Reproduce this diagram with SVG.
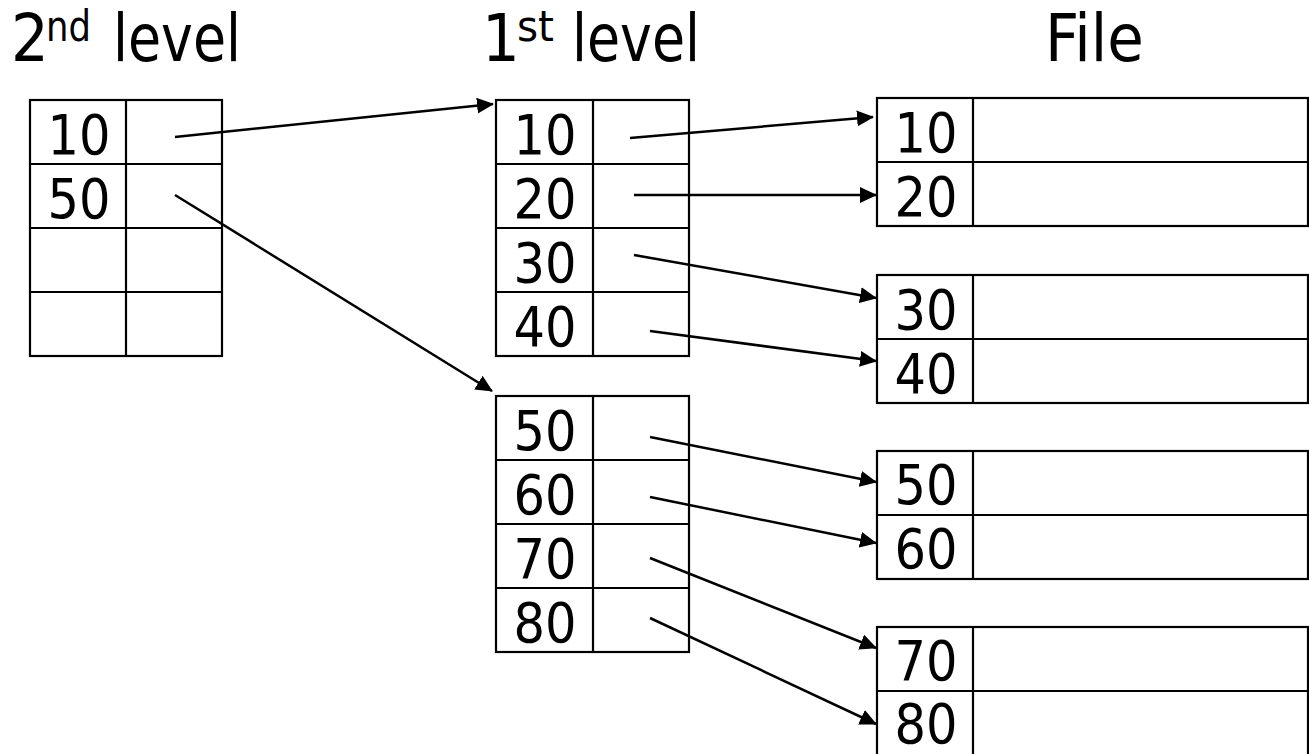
<svg xmlns="http://www.w3.org/2000/svg" width="1309" height="754" viewBox="0 0 1309 754">
<style>
.cell{fill:#fff;stroke:#000;stroke-width:2.2}
.ln{stroke:#000;stroke-width:2.2;fill:none}
.num{font-family:"DejaVu Sans Condensed","DejaVu Sans",sans-serif;font-stretch:condensed;font-size:55px;text-anchor:middle;fill:#000}
.title{font-family:"DejaVu Sans Condensed","DejaVu Sans",sans-serif;font-stretch:condensed;font-size:66px;fill:#000}
.sup{font-family:"DejaVu Sans Condensed","DejaVu Sans",sans-serif;font-stretch:condensed;font-size:42px;fill:#000}
.conn{stroke:#000;stroke-width:2.5;fill:none;marker-end:url(#ah)}
</style>
<defs>
<marker id="ah" viewBox="0 0 17 16" refX="16" refY="8" markerWidth="17" markerHeight="16" markerUnits="userSpaceOnUse" orient="auto">
<path d="M0,0 L17,8 L0,16 Z" fill="#000"/>
</marker>
</defs>
<rect width="1309" height="754" fill="#fff"/>

<g id="titles">
<text class="title" x="11" y="61">2</text>
<text class="sup" x="46" y="41" textLength="45" lengthAdjust="spacingAndGlyphs">nd</text>
<text class="title" x="113" y="61" textLength="128" lengthAdjust="spacingAndGlyphs">level</text>
<text class="title" x="482" y="61">1</text>
<text class="sup" x="517" y="41" textLength="37" lengthAdjust="spacingAndGlyphs">st</text>
<text class="title" x="572" y="61" textLength="128" lengthAdjust="spacingAndGlyphs">level</text>
<text class="title" x="1045" y="61">File</text>
</g>

<g id="second-level">
<rect class="cell" x="30" y="100" width="192" height="256"/>
<line class="ln" x1="126" y1="100" x2="126" y2="356"/>
<line class="ln" x1="30" y1="164" x2="222" y2="164"/>
<line class="ln" x1="30" y1="228" x2="222" y2="228"/>
<line class="ln" x1="30" y1="292" x2="222" y2="292"/>
<text class="num" x="79" y="154">10</text>
<text class="num" x="79" y="218">50</text>
</g>

<g id="first-level-a">
<rect class="cell" x="496" y="100" width="193" height="256"/>
<line class="ln" x1="593" y1="100" x2="593" y2="356"/>
<line class="ln" x1="496" y1="164" x2="689" y2="164"/>
<line class="ln" x1="496" y1="228" x2="689" y2="228"/>
<line class="ln" x1="496" y1="292" x2="689" y2="292"/>
<text class="num" x="545" y="154">10</text>
<text class="num" x="545" y="218">20</text>
<text class="num" x="545" y="282">30</text>
<text class="num" x="545" y="346">40</text>
</g>

<g id="first-level-b">
<rect class="cell" x="496" y="396" width="193" height="256"/>
<line class="ln" x1="593" y1="396" x2="593" y2="652"/>
<line class="ln" x1="496" y1="460" x2="689" y2="460"/>
<line class="ln" x1="496" y1="524" x2="689" y2="524"/>
<line class="ln" x1="496" y1="588" x2="689" y2="588"/>
<text class="num" x="545" y="450">50</text>
<text class="num" x="545" y="514">60</text>
<text class="num" x="545" y="578">70</text>
<text class="num" x="545" y="642">80</text>
</g>

<g id="file-block-1">
<rect class="cell" x="877" y="98" width="431" height="128"/>
<line class="ln" x1="973" y1="98" x2="973" y2="226"/>
<line class="ln" x1="877" y1="162" x2="1308" y2="162"/>
<text class="num" x="926" y="152">10</text>
<text class="num" x="926" y="216">20</text>
</g>

<g id="file-block-2">
<rect class="cell" x="877" y="275" width="431" height="128"/>
<line class="ln" x1="973" y1="275" x2="973" y2="403"/>
<line class="ln" x1="877" y1="339" x2="1308" y2="339"/>
<text class="num" x="926" y="329">30</text>
<text class="num" x="926" y="393">40</text>
</g>

<g id="file-block-3">
<rect class="cell" x="877" y="451" width="431" height="128"/>
<line class="ln" x1="973" y1="451" x2="973" y2="579"/>
<line class="ln" x1="877" y1="515" x2="1308" y2="515"/>
<text class="num" x="926" y="504">50</text>
<text class="num" x="926" y="568">60</text>
</g>

<g id="file-block-4">
<rect class="cell" x="877" y="627" width="431" height="130"/>
<line class="ln" x1="973" y1="627" x2="973" y2="757"/>
<line class="ln" x1="877" y1="691" x2="1308" y2="691"/>
<text class="num" x="926" y="680">70</text>
<text class="num" x="926" y="743">80</text>
</g>

<g id="connectors">
<line class="conn" x1="175" y1="137" x2="493" y2="104"/>
<line class="conn" x1="175" y1="195" x2="492" y2="391"/>
<line class="conn" x1="630" y1="138" x2="873" y2="117"/>
<line class="conn" x1="634" y1="195" x2="876" y2="195"/>
<line class="conn" x1="634" y1="255" x2="876" y2="298"/>
<line class="conn" x1="650" y1="331" x2="876" y2="361"/>
<line class="conn" x1="650" y1="437" x2="876" y2="482"/>
<line class="conn" x1="650" y1="497" x2="876" y2="543"/>
<line class="conn" x1="650" y1="558" x2="876" y2="648"/>
<line class="conn" x1="650" y1="618" x2="876" y2="724"/>
</g>
</svg>
